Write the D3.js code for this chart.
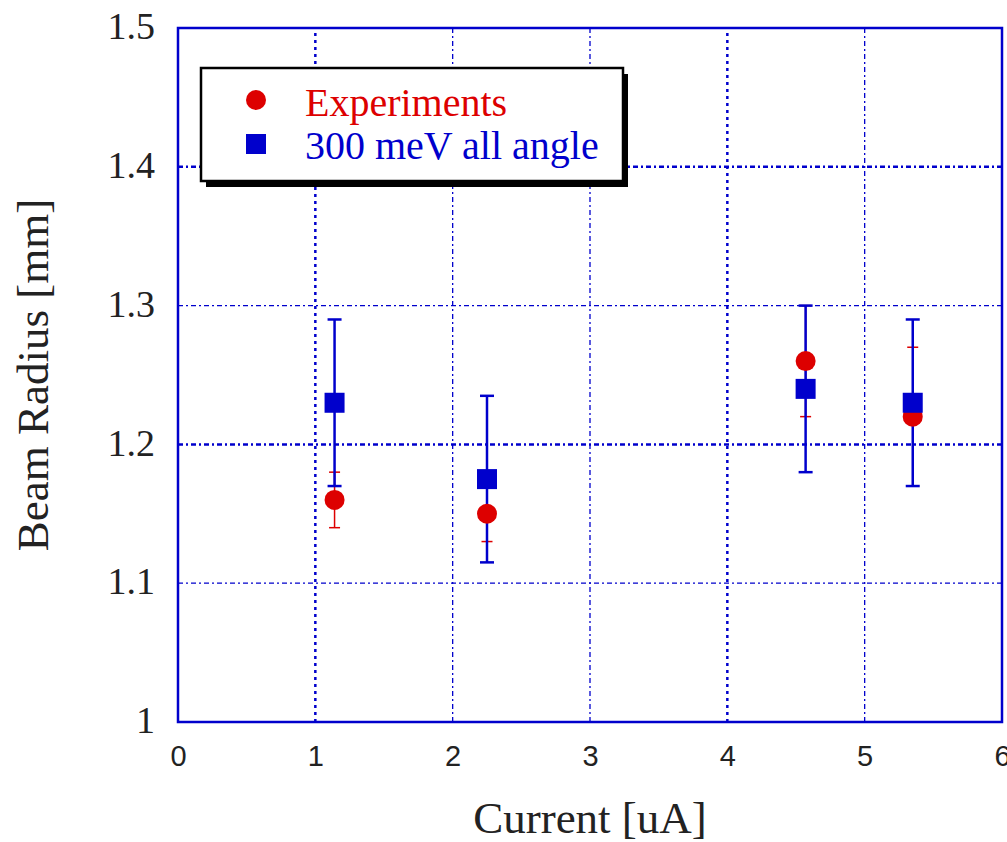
<!DOCTYPE html>
<html>
<head>
<meta charset="utf-8">
<script src="https://cdn.jsdelivr.net/npm/d3@7"></script>
<style>
  body { margin: 0; background: #fff; }
  svg { display: block; }
</style>
</head>
<body>
<div id="chart"></div>
<script>
// values
const xTicks = [0, 1, 2, 3, 4, 5, 6];
const yTicks = [1, 1.1, 1.2, 1.3, 1.4, 1.5];
const yTickLabels = ["1", "1.1", "1.2", "1.3", "1.4", "1.5"];
const current = [1.14, 2.25, 4.57, 5.35];

const expRadius = [1.16, 1.15, 1.26, 1.22];
const expLow = [1.14, 1.13, 1.22, 1.17];
const expHigh = [1.18, 1.17, 1.30, 1.27];

const simRadius = [1.23, 1.175, 1.24, 1.23];
const simLow = [1.17, 1.115, 1.18, 1.17];
const simHigh = [1.29, 1.235, 1.30, 1.29];

const legendLabels = ["Experiments", "300 meV all angle"];

const width = 1007, height = 842;
const margin = {top: 28, right: 5, bottom: 120, left: 178};
const red = "#dd0000", blue = "#0000cc";
const serif = "'Liberation Serif', 'Times New Roman', serif";

const svg = d3.select("#chart").append("svg")
  .attr("width", width).attr("height", height);

const x = d3.scaleLinear().domain([0, 6]).range([margin.left, width - margin.right]);
const y = d3.scaleLinear().domain([1, 1.5]).range([height - margin.bottom, margin.top]);

// grid (a few lines drawn heavier like in the source)
const heavyX = [1, 4], heavyY = [1.2, 1.4];
const grid = svg.append("g");
grid.selectAll("line.gx")
  .data(xTicks.slice(1, -1))
  .enter().append("line")
  .attr("x1", d => x(d)).attr("x2", d => x(d))
  .attr("y1", y(1)).attr("y2", y(1.5))
  .attr("stroke", blue)
  .attr("stroke-width", d => heavyX.includes(d) ? 2.5 : 1.3)
  .attr("stroke-dasharray", d => heavyX.includes(d) ? "3,4" : "5,3,2,3");
grid.selectAll("line.gy")
  .data(yTicks.slice(1, -1))
  .enter().append("line")
  .attr("y1", d => y(d)).attr("y2", d => y(d))
  .attr("x1", x(0)).attr("x2", x(6))
  .attr("stroke", blue)
  .attr("stroke-width", d => heavyY.includes(d) ? 2.5 : 1.3)
  .attr("stroke-dasharray", "5,3,2,3");

// frame
svg.append("rect")
  .attr("x", x(0)).attr("y", y(1.5))
  .attr("width", x(6) - x(0)).attr("height", y(1) - y(1.5))
  .attr("fill", "none").attr("stroke", blue).attr("stroke-width", 2.5);

// axes
const xAxis = d3.axisBottom(x).tickValues(xTicks).tickSize(0).tickPadding(23)
  .tickFormat(d3.format("d"));
svg.append("g")
  .attr("transform", `translate(0,${y(1)})`)
  .call(xAxis)
  .call(g => g.select(".domain").remove())
  .selectAll("text")
  .attr("font-family", "'Liberation Sans Narrow', 'Liberation Sans', sans-serif")
  .attr("font-size", 29).attr("fill", "#222");

const yAxis = d3.axisLeft(y).tickValues(yTicks).tickSize(0).tickPadding(23)
  .tickFormat((d, i) => yTickLabels[i]);
svg.append("g")
  .attr("transform", `translate(${x(0)},0)`)
  .call(yAxis)
  .call(g => g.select(".domain").remove())
  .selectAll("text")
  .attr("dy", "0.28em")
  .attr("font-family", serif)
  .attr("font-size", 38).attr("fill", "#222");

svg.append("text")
  .attr("x", (x(0) + x(6)) / 2).attr("y", 833)
  .attr("text-anchor", "middle")
  .attr("font-family", serif).attr("font-size", 45)
  .attr("fill", "#222")
  .text("Current [uA]");

svg.append("text")
  .attr("transform", `translate(48,${(y(1) + y(1.5)) / 2}) rotate(-90)`)
  .attr("text-anchor", "middle")
  .attr("font-family", serif).attr("font-size", 45)
  .attr("fill", "#222")
  .text("Beam Radius [mm]");

// error bars
function errorBars(low, high, color, lw, cap) {
  const g = svg.append("g").attr("stroke", color).attr("stroke-width", lw);
  current.forEach((c, i) => {
    g.append("line").attr("x1", x(c)).attr("x2", x(c))
      .attr("y1", y(low[i])).attr("y2", y(high[i]));
    [low[i], high[i]].forEach(v => {
      g.append("line").attr("x1", x(c) - cap / 2).attr("x2", x(c) + cap / 2)
        .attr("y1", y(v)).attr("y2", y(v));
    });
  });
}
errorBars(expLow, expHigh, red, 1.5, 11);
errorBars(simLow, simHigh, blue, 2.5, 14);

svg.append("g").selectAll("circle")
  .data(current)
  .enter().append("circle")
  .attr("cx", d => x(d)).attr("cy", (d, i) => y(expRadius[i]))
  .attr("r", 10).attr("fill", red);

svg.append("g").selectAll("rect")
  .data(current)
  .enter().append("rect")
  .attr("x", d => x(d) - 10).attr("y", (d, i) => y(simRadius[i]) - 10)
  .attr("width", 20).attr("height", 20).attr("fill", blue);

// legend
const lg = svg.append("g").attr("transform", "translate(201,68)");
lg.append("rect").attr("x", 5).attr("y", 6).attr("width", 422).attr("height", 113)
  .attr("fill", "#000");
lg.append("rect").attr("width", 422).attr("height", 113)
  .attr("fill", "#fff").attr("stroke", "#000").attr("stroke-width", 2.5);
lg.append("circle").attr("cx", 55).attr("cy", 32).attr("r", 10).attr("fill", red);
lg.append("rect").attr("x", 45).attr("y", 66).attr("width", 20).attr("height", 20).attr("fill", blue);
lg.selectAll("text.lab")
  .data(legendLabels)
  .enter().append("text")
  .attr("x", 104).attr("y", (d, i) => 48 + i * 43)
  .attr("font-family", serif).attr("font-size", 40)
  .attr("fill", (d, i) => i === 0 ? red : blue)
  .text(d => d);
</script>
</body>
</html>
